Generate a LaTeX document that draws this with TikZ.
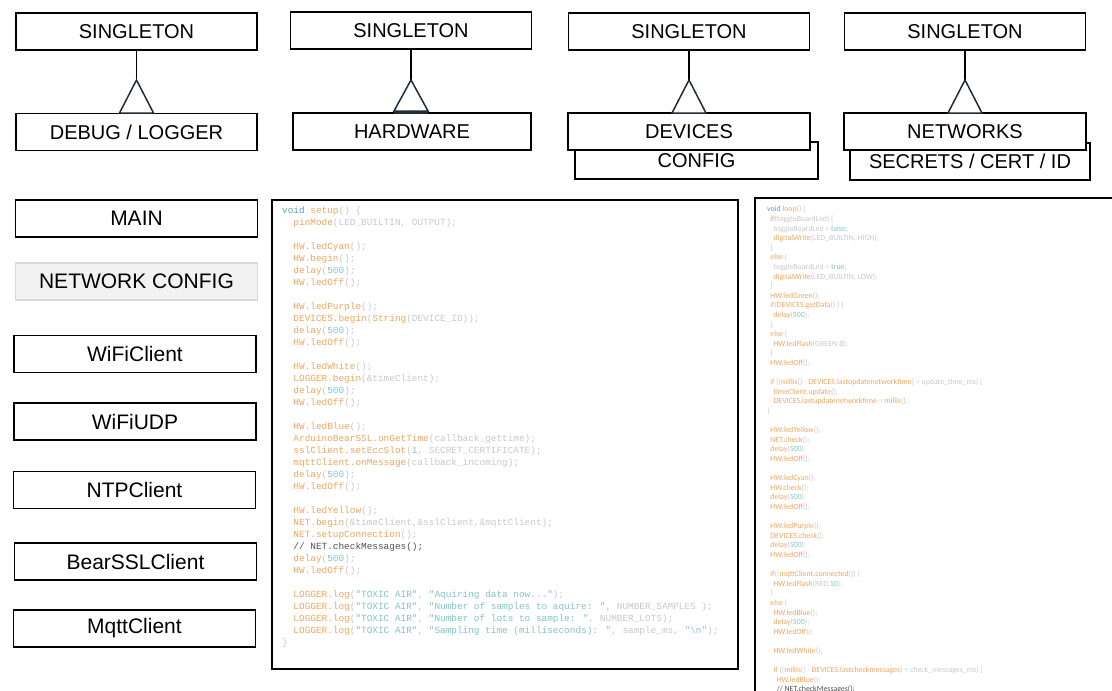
\documentclass[tikz,border=0pt]{standalone}
\usepackage{fontspec}
\setmainfont{Liberation Sans}
\newfontfamily\codemono{Liberation Mono}
\newfontfamily\codeprop{Carlito}
\definecolor{codeor}{RGB}{240,165,95}
\definecolor{codeteal}{RGB}{130,195,200}
\definecolor{codegray}{RGB}{200,200,200}
\definecolor{codevoid}{RGB}{95,160,180}
\definecolor{codecom}{RGB}{80,80,80}
\definecolor{cfgfill}{RGB}{242,242,242}
\definecolor{cfgdraw}{RGB}{217,217,217}
\definecolor{trisl}{RGB}{30,45,55}
\newcommand{\cfn}[1]{\textcolor{codeor}{#1}}
\newcommand{\cnum}[1]{\textcolor{codeteal}{#1}}
\newcommand{\cvoid}[1]{\textcolor{codevoid}{#1}}
\newcommand{\ccom}[1]{\textcolor{codecom}{#1}}
\newcommand{\tabin}{\phantom{xx}}
\newcommand{\ia}{\hspace*{3.2pt}}
\tikzset{
        umlbox/.style={draw,line width=1.6pt,fill=white,inner sep=0pt,minimum width=241pt,minimum height=37pt,font=\fontsize{20}{24}\selectfont},
        libbox/.style={draw,line width=1.6pt,fill=white,inner sep=0pt,minimum width=242pt,minimum height=37pt,font=\fontsize{21}{25}\selectfont},
        codebox/.style={draw,line width=1.6pt,inner sep=0pt},
        setupcode/.style={anchor=north west,inner sep=0pt,align=left,text=codegray,font=\codemono\fontsize{9.4}{12}\selectfont},
        loopcode/.style={anchor=north west,inner sep=0pt,align=left,text=codegray,font=\codeprop\fontsize{7.85}{9.6}\selectfont},
        tri/.style={draw=trisl,line width=1.5pt,fill=white}
}
\begin{document}
\begin{tikzpicture}[x=1pt,y=-1pt]
        \useasboundingbox (0,0) rectangle (1112,691);
        \clip (0,0) rectangle (1112,691);
        \begin{scope}[every node/.style={umlbox}]
        \node (singa) at (136.5,31.5) {SINGLETON};
        \node (singb) at (411,30.5) {SINGLETON};
        \node (singc) at (689,31.5) {SINGLETON};
        \node (singd) at (965,31.5) {SINGLETON};
        \node (config) at (696.5,160.5) [minimum width=243pt] {CONFIG};
        \node (secrets) at (970,161.5) [minimum width=240pt] {SECRETS / CERT / ID};
        \node (debug) at (136.5,132) {DEBUG / LOGGER};
        \node (hardware) at (412,131.5) [minimum width=238pt] {HARDWARE};
        \node (devices) at (689,131.5) [minimum width=242pt] {DEVICES};
        \node (networks) at (965,131.5) [minimum width=242pt] {NETWORKS};
        \end{scope}
        \coordinate (tria) at (136.5,80);
        \coordinate (trib) at (411,80);
        \coordinate (tric) at (689,80);
        \coordinate (trid) at (965,80);
        \begin{scope}[every edge/.style={draw=black,line width=1.5pt}]
        \path (singa) edge (tria)
              (singb) edge (trib)
              (singc) edge (tric)
              (singd) edge (trid);
        \end{scope}
        \draw[tri] (tria) -- ++(-17,33) -- ++(34,0) -- cycle;
        \draw[tri] (trib) -- ++(-17,31) -- ++(34,0) -- cycle;
        \draw[trisl,line width=3pt] ([xshift=-17pt]trib |- hardware.north) -- ([xshift=17pt]trib |- hardware.north);
        \draw[tri] (tric) -- ++(-17,33) -- ++(34,0) -- cycle;
        \draw[tri] (trid) -- ++(-17,33) -- ++(34,0) -- cycle;
        \begin{scope}[every node/.style={libbox}]
        \node (main) at (136.5,218.5) {MAIN};
        \node (netcfg) at (136.5,281.5) [draw=cfgdraw,fill=cfgfill] {NETWORK CONFIG};
        \node (wificlient) at (135,354) {WiFiClient};
        \node (wifiudp) at (135,421.5) {WiFiUDP};
        \node (ntpclient) at (134.5,490) {NTPClient};
        \node (bearssl) at (135.5,561.5) {BearSSLClient};
        \node (mqttclient) at (134.5,628.5) {MqttClient};
        \end{scope}
        \node[codebox,minimum width=466pt,minimum height=469pt] (setupbox) at (505,434.5) {};
        \node[codebox,minimum width=380pt,minimum height=520pt] (loopbox) at (945,458) {};
        \node[setupcode] (setuptxt) at (282,206) {%
\cvoid{void} \cfn{setup}() \{\\
\tabin\cfn{pinMode}(LED\_BUILTIN, OUTPUT);\\
\mbox{}\\
\tabin\cfn{HW.ledCyan}();\\
\tabin\cfn{HW.begin}();\\
\tabin\cfn{delay}(\cnum{500});\\
\tabin\cfn{HW.ledOff}();\\
\mbox{}\\
\tabin\cfn{HW.ledPurple}();\\
\tabin\cfn{DEVICES.begin}(\cfn{String}(DEVICE\_ID));\\
\tabin\cfn{delay}(\cnum{500});\\
\tabin\cfn{HW.ledOff}();\\
\mbox{}\\
\tabin\cfn{HW.ledWhite}();\\
\tabin\cfn{LOGGER.begin}(\&timeClient);\\
\tabin\cfn{delay}(\cnum{500});\\
\tabin\cfn{HW.ledOff}();\\
\mbox{}\\
\tabin\cfn{HW.ledBlue}();\\
\tabin\cfn{ArduinoBearSSL.onGetTime}(callback\_gettime);\\
\tabin\cfn{sslClient.setEccSlot}(\cnum{1}, SECRET\_CERTIFICATE);\\
\tabin\cfn{mqttClient.onMessage}(callback\_incoming);\\
\tabin\cfn{delay}(\cnum{500});\\
\tabin\cfn{HW.ledOff}();\\
\mbox{}\\
\tabin\cfn{HW.ledYellow}();\\
\tabin\cfn{NET.begin}(\&timeClient,\&sslClient,\&mqttClient);\\
\tabin\cfn{NET.setupConnection}();\\
\tabin\ccom{// NET.checkMessages();}\\
\tabin\cfn{delay}(\cnum{500});\\
\tabin\cfn{HW.ledOff}();\\
\mbox{}\\
\tabin\cfn{LOGGER.log}(\cnum{"TOXIC AIR"}, \cnum{"Aquiring data now..."});\\
\tabin\cfn{LOGGER.log}(\cnum{"TOXIC AIR"}, \cnum{"Number of samples to aquire: "}, NUMBER\_SAMPLES );\\
\tabin\cfn{LOGGER.log}(\cnum{"TOXIC AIR"}, \cnum{"Number of lots to sample: "}, NUMBER\_LOTS);\\
\tabin\cfn{LOGGER.log}(\cnum{"TOXIC AIR"}, \cnum{"Sampling time (milliseconds): "}, sample\_ms, \cnum{"\textbackslash n"});\\
\}};
        \node[loopcode] (looptxt) at (767,206) {%
\cvoid{void} \cfn{loop}() \{\\
\ia\cfn{if}(toggleBoardLed) \{\\
\ia\ia toggleBoardLed = \cnum{false};\\
\ia\ia\cfn{digitalWrite}(LED\_BUILTIN, HIGH);\\
\ia\}\\
\ia\cfn{else} \{\\
\ia\ia toggleBoardLed = \cnum{true};\\
\ia\ia\cfn{digitalWrite}(LED\_BUILTIN, LOW);\\
\ia\}\\
\ia\cfn{HW.ledGreen}();\\
\ia\cfn{if}(\cfn{DEVICES.getData}() ) \{\\
\ia\ia\cfn{delay}(\cnum{500});\\
\ia\}\\
\ia\cfn{else} \{\\
\ia\ia\cfn{HW.ledFlash}(GREEN,\cnum{3});\\
\ia\}\\
\ia\cfn{HW.ledOff}();\\
\mbox{}\\
\ia\cfn{if} ((\cfn{millis}() - \cfn{DEVICES.lastupdatenetworktime}) > update\_time\_ms) \{\\
\ia\ia\cfn{timeClient.update}();\\
\ia\ia\cfn{DEVICES.lastupdatenetworktime} = \cfn{millis}();\\
\}\\
\mbox{}\\
\ia\cfn{HW.ledYellow}();\\
\ia\cfn{NET.check}();\\
\ia\cfn{delay}(\cnum{500});\\
\ia\cfn{HW.ledOff}();\\
\mbox{}\\
\ia\cfn{HW.ledCyan}();\\
\ia\cfn{HW.check}();\\
\ia\cfn{delay}(\cnum{500});\\
\ia\cfn{HW.ledOff}();\\
\mbox{}\\
\ia\cfn{HW.ledPurple}();\\
\ia\cfn{DEVICES.check}();\\
\ia\cfn{delay}(\cnum{500});\\
\ia\cfn{HW.ledOff}();\\
\mbox{}\\
\ia\cfn{if}(!\cfn{mqttClient.connected}()) \{\\
\ia\ia\cfn{HW.ledFlash}(RED,\cnum{10});\\
\ia\}\\
\ia\cfn{else} \{\\
\ia\ia\cfn{HW.ledBlue}();\\
\ia\ia\cfn{delay}(\cnum{500});\\
\ia\ia\cfn{HW.ledOff}();\\
\mbox{}\\
\ia\ia\cfn{HW.ledWhite}();\\
\mbox{}\\
\ia\ia\cfn{if} ((\cfn{millis}() - \cfn{DEVICES.lastcheckmessages}) > check\_messages\_ms) \{\\
\ia\ia\ia\cfn{HW.ledBlue}();\\
\ia\ia\ia\ccom{// NET.checkMessages();}};
\end{tikzpicture}
\end{document}
